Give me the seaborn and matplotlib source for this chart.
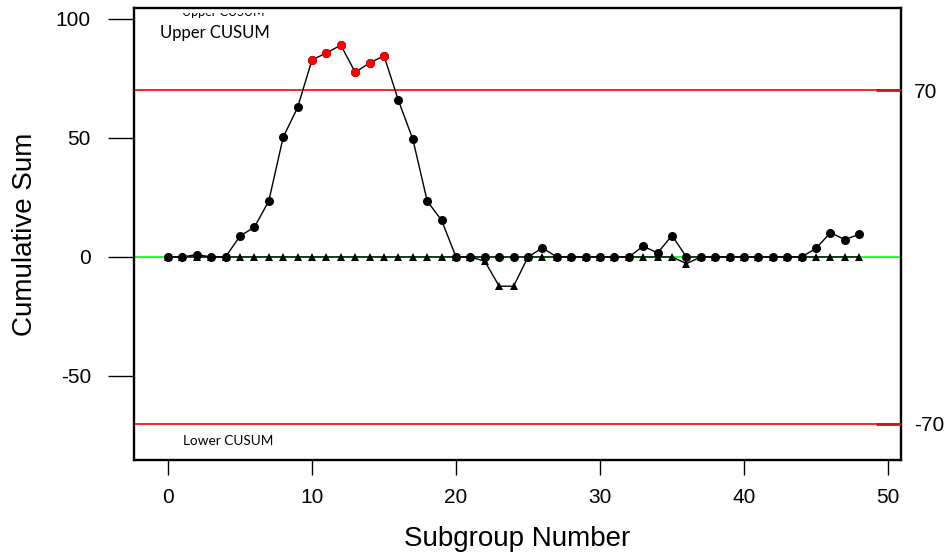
import numpy as np
import pandas as pd
import seaborn as sns
import matplotlib.pyplot as plt
from matplotlib import font_manager
from matplotlib.patches import Rectangle

# CUSUM values (subgroups 0..48)
subgroup = list(range(49))
upper_cusum = [0, 0, 1, 0, 0, 8.8, 12.5, 23.5, 50.3, 62.8,
               82.8, 85.7, 89, 77.6, 81.5, 84.5, 65.8, 49.5, 23.5, 15.4,
               0, 0, 0, 0, 0, 0, 3.8, 0, 0, 0,
               0, 0, 0, 4.5, 1.7, 9, 0, 0, 0, 0,
               0, 0, 0, 0, 0, 3.6, 10.2, 7.3, 9.5]
lower_cusum = [0, 0, 0, 0, 0, 0, 0, 0, 0, 0,
               0, 0, 0, 0, 0, 0, 0, 0, 0, 0,
               0, 0, -1.8, -12.3, -12.3, 0, 0, 0, 0, 0,
               0, 0, 0, 0, 0, 0, -2.8, 0, 0, 0,
               0, 0, 0, 0, 0, 0, 0, 0, 0]
h_limit = 70
x_ticks = [0, 10, 20, 30, 40, 50]
y_ticks = [-50, 0, 50, 100]

df = pd.DataFrame({"subgroup": subgroup, "upper": upper_cusum, "lower": lower_cusum})
out = df[df["upper"] > h_limit]

sns.set_style("white", {"text.color": "black", "axes.labelcolor": "black",
                        "xtick.color": "black", "ytick.color": "black",
                        "axes.edgecolor": "black"})
names = {f.name for f in font_manager.fontManager.ttflist}
narrow = "Liberation Sans Narrow" if "Liberation Sans Narrow" in names else "Liberation Sans"
plt.rcParams["font.family"] = [narrow, "DejaVu Sans"]
plt.rcParams["axes.unicode_minus"] = False
small_font = ["Lato", "DejaVu Sans"]

fig = plt.figure(figsize=(9.47, 5.55), dpi=100)
ax = fig.add_axes([0.1415, 0.1712, 0.8099, 0.8144])

# reference lines
ax.axhline(0, color="#00ff00", lw=1.2, zorder=1)
ax.axhline(h_limit, color="red", lw=1.2, zorder=1)
ax.axhline(-h_limit, color="red", lw=1.2, zorder=1)

# lower cusum (triangles) under the upper cusum (circles)
sns.lineplot(data=df, x="subgroup", y="lower", ax=ax, color="black", lw=1.0,
             marker="^", markersize=5.5, markeredgewidth=0, zorder=2)
sns.lineplot(data=df, x="subgroup", y="upper", ax=ax, color="black", lw=1.0,
             marker="o", markersize=6.5, markeredgewidth=0, zorder=3)
sns.scatterplot(data=out, x="subgroup", y="upper", ax=ax, color="red", s=42,
                linewidth=0, zorder=4)

ax.set_xlim(-2.36, 50.9)
ax.set_ylim(-85.3, 104.6)
ax.set_xticks(x_ticks)
ax.set_yticks(y_ticks)
ax.tick_params(axis="x", direction="out", length=11, width=1, pad=9,
               labelsize=15, bottom=True)
ax.tick_params(axis="y", direction="out", length=19, width=1, pad=12,
               labelsize=15, left=True)
for s in ax.spines.values():
    s.set_linewidth(1.7)
    s.set_color("black")

ax.set_xlabel("Subgroup Number", fontsize=20)
ax.set_ylabel("Cumulative Sum", fontsize=20)
ax.xaxis.set_label_coords(0.5, -0.145)
ax.yaxis.set_label_coords(-0.125, 0.5)

# right side limit labels
ax2 = ax.twinx()
ax2.set_ylim(ax.get_ylim())
ax2.set_yticks([h_limit, -h_limit])
ax2.set_yticklabels(["70", "-70"])
ax2.tick_params(axis="y", direction="in", length=18, width=2, color="#c41818",
                pad=9.5, labelsize=15, right=True)
for s in ax2.spines.values():
    s.set_visible(False)

ax.text(-0.56, 94.1, "Upper CUSUM", fontsize=12, family=small_font,
        va="center", ha="left")
# half-hidden label at the top edge, as in the source chart
ghost = ax.text(0.97, 101.3, "Upper CUSUM", fontsize=9, family=small_font,
                va="baseline", ha="left")
ghost.set_clip_path(Rectangle((0, 0), 1, 0.989, transform=ax.transAxes))
ghost.set_clip_on(True)
ax.text(1.04, -77.3, "Lower CUSUM", fontsize=9.8, family=small_font,
        va="center", ha="left")

fig.savefig("out.png", dpi=100)
